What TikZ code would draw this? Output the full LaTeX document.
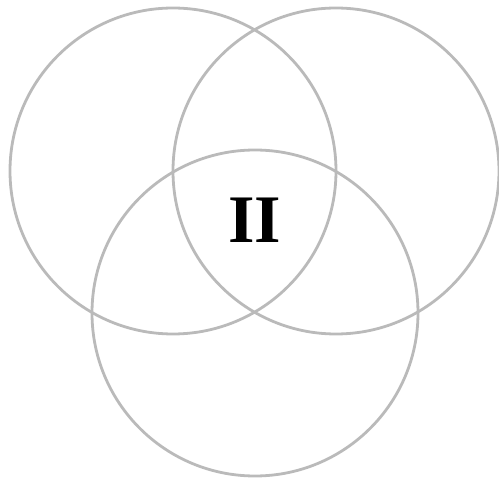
\documentclass[tikz,border=0pt]{standalone}
\usepackage{fontspec}
\setmainfont{Liberation Serif}
\usepackage{tikz}

\begin{document}
\begin{tikzpicture}[
    x=1pt,y=-1pt,
    ring/.style={circle,draw=black!27,line width=2.8pt,minimum size=326pt,inner sep=0pt},
    label/.style={font=\fontsize{68}{68}\selectfont\bfseries}
]
\useasboundingbox (0,0) rectangle (499,481);
\node[ring] (left) at (173,171) {};
\node[ring] (right) at (336,171) {};
\node[ring] (bottom) at (255,313) {};
\node[label] (mid) at (255,220) {II};
\end{tikzpicture}
\end{document}
